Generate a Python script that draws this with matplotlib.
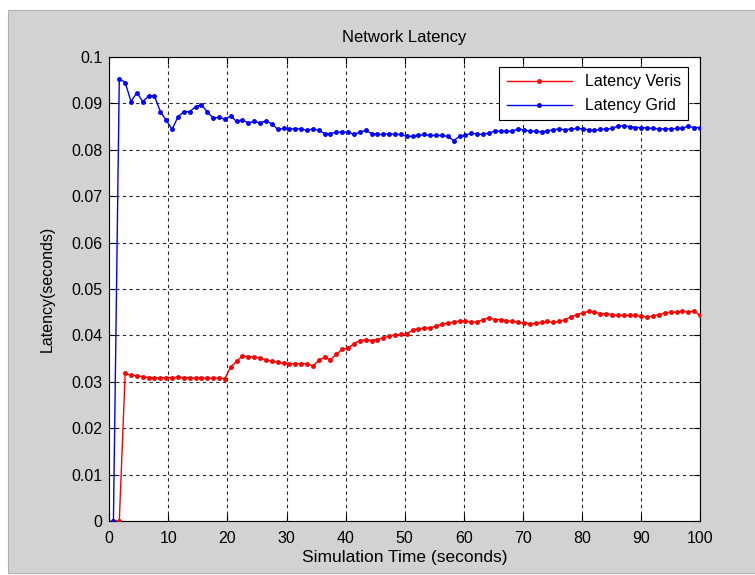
import matplotlib
matplotlib.use("Agg")
import matplotlib.pyplot as plt
from matplotlib.patches import Rectangle
import numpy as np

# sample times (101 samples, first one just before 1 s)
sim_time = np.linspace(0.7, 100, 101)

latency_grid = [
    0.0, 0.0953, 0.0945, 0.0904, 0.0923, 0.0904, 0.0916, 0.0916, 0.0882, 0.0864,
    0.0844, 0.0871, 0.0882, 0.0882, 0.0893, 0.0897, 0.0882, 0.0868, 0.0870, 0.0866,
    0.0873, 0.0861, 0.0864, 0.0858, 0.0861, 0.0858, 0.0862, 0.0856, 0.0844, 0.0846,
    0.0845, 0.0845, 0.0845, 0.0842, 0.0845, 0.0842, 0.0835, 0.0835, 0.0838, 0.0838,
    0.0838, 0.0833, 0.0838, 0.0842, 0.0835, 0.0833, 0.0833, 0.0835, 0.0833, 0.0833,
    0.0829, 0.0829, 0.0831, 0.0833, 0.0831, 0.0831, 0.0831, 0.0829, 0.0820, 0.0829,
    0.0831, 0.0836, 0.0834, 0.0833, 0.0836, 0.0840, 0.0840, 0.0840, 0.0840, 0.0845,
    0.0843, 0.0840, 0.0840, 0.0838, 0.0841, 0.0843, 0.0845, 0.0843, 0.0845, 0.0846,
    0.0845, 0.0843, 0.0842, 0.0844, 0.0845, 0.0846, 0.0851, 0.0852, 0.0850, 0.0848,
    0.0848, 0.0847, 0.0846, 0.0845, 0.0845, 0.0845, 0.0846, 0.0846, 0.0851, 0.0848,
    0.0848,
]

latency_veris = [
    0.0, 0.0, 0.0318, 0.0314, 0.0313, 0.0311, 0.0309, 0.0309, 0.0309, 0.0309,
    0.0309, 0.0310, 0.0309, 0.0309, 0.0308, 0.0308, 0.0308, 0.0308, 0.0308, 0.0307,
    0.0332, 0.0344, 0.0356, 0.0354, 0.0354, 0.0351, 0.0347, 0.0344, 0.0342, 0.0340,
    0.0339, 0.0339, 0.0339, 0.0339, 0.0334, 0.0346, 0.0353, 0.0348, 0.0359, 0.0370,
    0.0373, 0.0382, 0.0389, 0.0391, 0.0389, 0.0391, 0.0395, 0.0398, 0.0401, 0.0402,
    0.0404, 0.0411, 0.0414, 0.0416, 0.0416, 0.0420, 0.0424, 0.0426, 0.0429, 0.0431,
    0.0431, 0.0429, 0.0429, 0.0434, 0.0438, 0.0434, 0.0434, 0.0432, 0.0430, 0.0428,
    0.0427, 0.0425, 0.0426, 0.0428, 0.0430, 0.0428, 0.0430, 0.0434, 0.0440, 0.0445,
    0.0448, 0.0452, 0.0450, 0.0447, 0.0447, 0.0445, 0.0443, 0.0443, 0.0443, 0.0443,
    0.0441, 0.0440, 0.0442, 0.0445, 0.0448, 0.0450, 0.0450, 0.0452, 0.0450, 0.0453,
    0.0443,
]

x_ticks = list(range(0, 101, 10))
y_ticks = [0, 0.01, 0.02, 0.03, 0.04, 0.05, 0.06, 0.07, 0.08, 0.09, 0.1]
y_tick_labels = ["0", "0.01", "0.02", "0.03", "0.04", "0.05", "0.06", "0.07", "0.08", "0.09", "0.1"]

plt.rcParams["font.family"] = ["Liberation Sans", "DejaVu Sans"]

fig = plt.figure(figsize=(7.55, 5.75), dpi=100)
fig.patch.set_facecolor("white")
# gray matlab-like figure window, with a thin white margin at top/left
bg = Rectangle((8 / 755, 2 / 575), 1.0, 1 - 12 / 575,
               transform=fig.transFigure, facecolor="#d2d2d2",
               edgecolor="#b0b0b0", linewidth=0.8, zorder=-10)
fig.add_artist(bg)

ax = fig.add_axes([109.3 / 755, 1 - 521 / 575, (700 - 109.3) / 755, (521 - 57) / 575])
ax.set_zorder(5)
ax.set_facecolor("white")

ax.plot(sim_time, latency_veris, color="red", marker=".", markersize=5, linewidth=1.0,
        label="Latency Veris", zorder=3)
ax.plot(sim_time, latency_grid, color="blue", marker=".", markersize=5, linewidth=1.0,
        label="Latency Grid", zorder=3)

ax.set_xlim(0, 100)
ax.set_ylim(0, 0.1)
ax.set_xticks(x_ticks)
ax.set_yticks(y_ticks)
ax.set_yticklabels(y_tick_labels)
ax.tick_params(direction="in", top=True, right=True, length=5, width=0.8,
               labelsize=11.5, colors="black")
ax.tick_params(axis="x", pad=7)
ax.tick_params(axis="y", pad=5)
ax.grid(True, color="black", linestyle=(0, (3, 3)), linewidth=0.8, alpha=0.85)
for s in ax.spines.values():
    s.set_linewidth(0.8)
    s.set_color("black")

ax.set_title("Network Latency", fontsize=12, pad=11)
ax.set_xlabel("Simulation Time (seconds)", fontsize=12.5, labelpad=3)
ax.set_ylabel("Latency(seconds)", fontsize=11.5, labelpad=12)

leg = ax.legend(loc="upper right", fontsize=11.5, fancybox=False, framealpha=1,
                edgecolor="black", borderpad=0.45, labelspacing=0.55,
                handlelength=4.1, handletextpad=0.8, borderaxespad=0,
                bbox_to_anchor=(0.98, 0.978))
leg.get_frame().set_linewidth(0.8)

fig.savefig("out.png", dpi=100)
